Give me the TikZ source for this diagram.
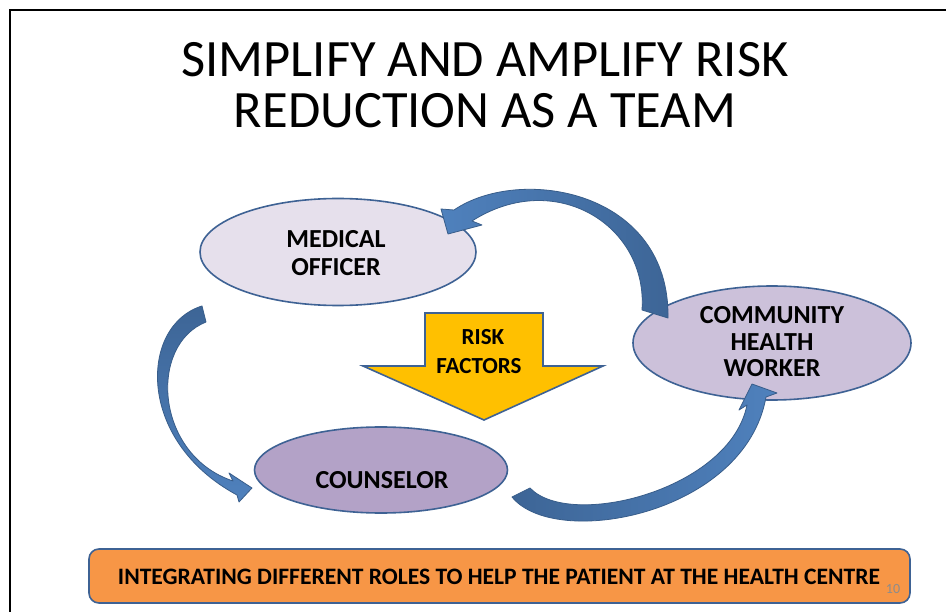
\documentclass[tikz,border=0pt]{standalone}
\usepackage{fontspec}
\setmainfont{Carlito}
\usetikzlibrary{shapes.geometric}
\definecolor{edgeblue}{HTML}{3E6294}
\definecolor{arrowlight}{HTML}{4F81BD}
\definecolor{arrowdark}{HTML}{3D6596}
\definecolor{arrowedge}{HTML}{385D8A}
\definecolor{mofill}{HTML}{E6E0EC}
\definecolor{chwfill}{HTML}{CCC1DA}
\definecolor{coufill}{HTML}{B3A2C7}
\definecolor{riskfill}{HTML}{FFC000}
\definecolor{bannerfill}{HTML}{F79646}
\definecolor{pagegray}{HTML}{8C8C8C}
\tikzset{
  role/.style={ellipse, draw=edgeblue, line width=1.6pt, inner sep=0pt},
  lbl/.style={anchor=base, font=\fontsize{26}{30}\selectfont\bfseries},
  risklbl/.style={anchor=base, font=\fontsize{23}{27}\selectfont\bfseries},
  titletext/.style={anchor=base, font=\fontsize{52.5}{54}\selectfont},
  curvearrow/.style={draw=arrowedge, line width=0.8pt, line join=round},
}
\begin{document}
\begin{tikzpicture}[x=1pt,y=-1pt]
\useasboundingbox (0,0) rectangle (946,612);
\fill[white] (0,0) rectangle (946,612);
\draw[line width=2pt] (10,612) -- (10,10) -- (946,10);

% title
\node[titletext] (title1) at (485,77) {SIMPLIFY AND AMPLIFY RISK};
\node[titletext] (title2) at (485,128) {REDUCTION AS A TEAM};

% roles
\node[role, fill=mofill, minimum width=276pt, minimum height=107pt] (mo) at (338,252) {};
\node[role, fill=chwfill, minimum width=278pt, minimum height=114pt] (chw) at (772,343) {};
\node[role, fill=coufill, minimum width=253pt, minimum height=86pt] (cou) at (381,470) {};

% risk factors arrow
\draw[draw=edgeblue, line width=1.6pt, fill=riskfill, line join=miter]
  (425,313) -- (543,313) -- (543,366) -- (603,366) -- (484,420) -- (363,366) -- (425,366) -- cycle;

% curved arrows
\path[curvearrow, left color=arrowlight, right color=arrowdark]
  (454,210) .. controls (520,165) and (670,190) .. (668,318) -- (642,310)
  .. controls (648,225) and (555,168) .. (472,221) -- (482,225) -- (448,234) -- (441,209) -- cycle;
\path[curvearrow, top color=arrowdark, bottom color=arrowlight]
  (202,306) .. controls (140,325) and (135,440) .. (237,495) -- (239,502) -- (252,488) -- (229,473) -- (233,481)
  .. controls (155,455) and (148,345) .. (206,322) -- cycle;
\path[curvearrow, left color=arrowdark, right color=arrowlight]
  (512,497) .. controls (555,550) and (745,515) .. (766,397) -- (777,393) -- (752,384) -- (739,410) -- (747,405)
  .. controls (730,490) and (570,530) .. (530,488) -- cycle;

% labels
\node[lbl] (mo1) at (336,248) {MEDICAL};
\node[lbl] (mo2) at (336,276) {OFFICER};
\node[lbl] (chw1) at (772,324) {COMMUNITY};
\node[lbl] (chw2) at (772,351) {HEALTH};
\node[lbl] (chw3) at (772,377) {WORKER};
\node[lbl] (cou1) at (382,489) {COUNSELOR};
\node[risklbl] (rf1) at (483,345) {RISK};
\node[risklbl] (rf2) at (479,374) {FACTORS};

% banner
\draw[draw=edgeblue, line width=1.6pt, fill=bannerfill, rounded corners=10pt] (89,549) rectangle (910,603);
\node[anchor=base, font=\fontsize{19}{22}\selectfont\bfseries] (banner) at (499,584)
  {\resizebox{762pt}{!}{INTEGRATING DIFFERENT ROLES TO HELP THE PATIENT AT THE HEALTH CENTRE}};
\node[anchor=base, text=pagegray, font=\fontsize{14}{16}\selectfont] (pagenum) at (893,593) {10};
\end{tikzpicture}
\end{document}
